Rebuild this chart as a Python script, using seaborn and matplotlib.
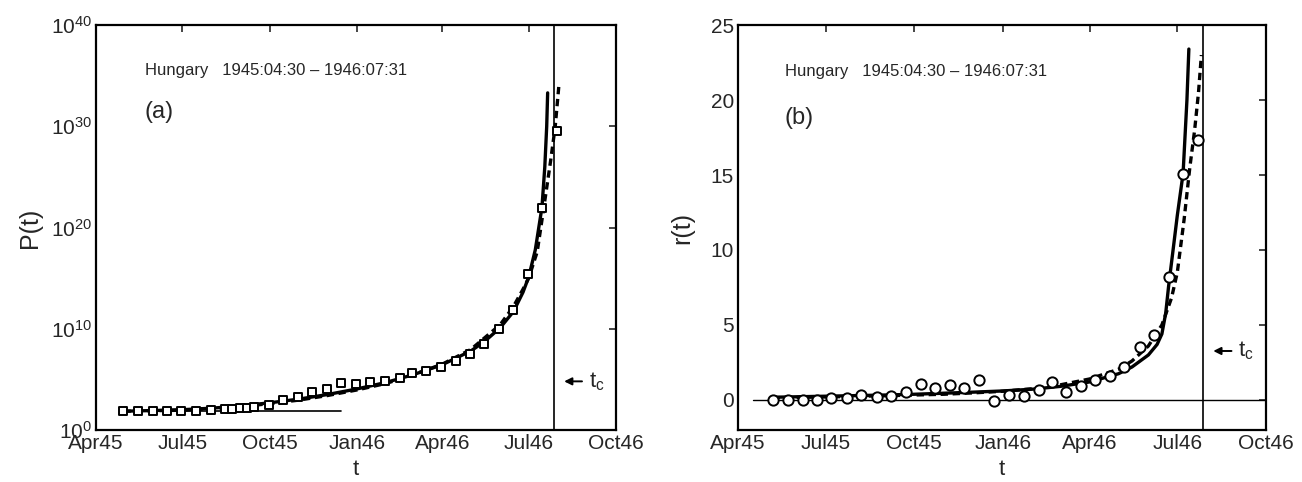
"""
hungary_hyperinflation.py
Price index P(t) and return r(t) for the Hungarian hyperinflation, with two fits.
"""

import matplotlib.dates as mdates
import matplotlib.pyplot as plt
import numpy as np
import pandas as pd
import seaborn as sns

# data
price_dates = [
    "1945-04-30", "1945-05-15", "1945-05-31", "1945-06-15", "1945-06-30",
    "1945-07-15", "1945-07-31", "1945-08-15", "1945-08-22", "1945-08-31",
    "1945-09-07", "1945-09-15", "1945-09-30", "1945-10-15", "1945-10-31",
    "1945-11-15", "1945-11-30", "1945-12-15", "1945-12-31", "1946-01-15",
    "1946-01-31", "1946-02-15", "1946-02-28", "1946-03-15", "1946-03-31",
    "1946-04-15", "1946-04-30", "1946-05-15", "1946-05-31", "1946-06-15",
    "1946-06-30", "1946-07-15", "1946-07-31",
]
log_price = [
    1.85, 1.85, 1.85, 1.85, 1.85, 1.89, 1.94, 2.07, 2.10, 2.15,
    2.20, 2.26, 2.48, 2.95, 3.30, 3.73, 4.06, 4.62, 4.58, 4.72,
    4.83, 5.12, 5.63, 5.86, 6.25, 6.81, 7.50, 8.45, 9.97, 11.85,
    15.41, 21.97, 29.50,
]

return_dates = [
    "1945-05-07", "1945-05-23", "1945-06-07", "1945-06-22", "1945-07-07",
    "1945-07-23", "1945-08-07", "1945-08-23", "1945-09-07", "1945-09-22",
    "1945-10-08", "1945-10-23", "1945-11-07", "1945-11-22", "1945-12-07",
    "1945-12-23", "1946-01-07", "1946-01-23", "1946-02-07", "1946-02-21",
    "1946-03-07", "1946-03-23", "1946-04-07", "1946-04-22", "1946-05-07",
    "1946-05-23", "1946-06-07", "1946-06-22", "1946-07-07", "1946-07-23",
]
returns = [
    0.0, 0.0, 0.0, 0.0, 0.1, 0.1, 0.3, 0.2, 0.25, 0.5,
    1.07, 0.8, 1.0, 0.77, 1.3, -0.1, 0.33, 0.24, 0.66, 1.18,
    0.53, 0.9, 1.3, 1.58, 2.19, 3.5, 4.33, 8.2, 15.1, 17.35,
]

# fit curves for P(t), sampled from the figure (log10 P)
fit_p_solid_dates = [
    "1945-04-30", "1945-06-01", "1945-07-01", "1945-08-01", "1945-09-01",
    "1945-10-01", "1945-11-01", "1945-12-01", "1946-01-01", "1946-02-01",
    "1946-03-01", "1946-04-01", "1946-05-01", "1946-05-15", "1946-06-01",
    "1946-06-15", "1946-06-25", "1946-07-01", "1946-07-08", "1946-07-15",
    "1946-07-18", "1946-07-20", "1946-07-21",
]
fit_p_solid = [
    1.85, 1.92, 2.00, 2.15, 2.38, 2.68, 3.05, 3.50, 4.05, 4.70,
    5.45, 6.45, 7.80, 8.70, 10.10, 11.70, 13.60, 15.10, 17.80, 22.00,
    26.00, 30.00, 33.30,
]
fit_p_dashed_dates = [
    "1945-04-30", "1945-07-01", "1945-09-01", "1945-10-01", "1945-11-01",
    "1945-12-01", "1946-01-01", "1946-02-01", "1946-03-01", "1946-04-01",
    "1946-05-01", "1946-06-01", "1946-06-15", "1946-06-25", "1946-07-01",
    "1946-07-10", "1946-07-17", "1946-07-24", "1946-07-29", "1946-08-02",
]
fit_p_dashed = [
    1.85, 1.95, 2.30, 2.60, 2.95, 3.40, 3.95, 4.60, 5.45, 6.50,
    7.95, 10.40, 12.20, 13.90, 15.00, 17.60, 22.00, 26.50, 30.00, 34.20,
]

# fit curves for r(t)
fit_r_solid_dates = [
    "1945-05-07", "1945-07-01", "1945-09-01", "1945-10-01", "1945-11-01",
    "1945-12-01", "1946-01-01", "1946-02-01", "1946-03-01", "1946-04-01",
    "1946-05-01", "1946-05-15", "1946-06-01", "1946-06-10", "1946-06-15",
    "1946-06-19", "1946-06-22", "1946-06-27", "1946-07-01", "1946-07-07",
    "1946-07-11", "1946-07-13",
]
fit_r_solid = [
    0.18, 0.25, 0.33, 0.38, 0.45, 0.52, 0.60, 0.72, 0.90, 1.20,
    1.75, 2.20, 3.00, 3.70, 4.40, 5.80, 7.60, 10.20, 12.30, 15.10,
    20.00, 23.40,
]
fit_r_dashed_dates = [
    "1945-05-07", "1945-07-01", "1945-09-01", "1945-10-01", "1945-11-01",
    "1945-12-01", "1946-01-01", "1946-02-01", "1946-03-01", "1946-04-01",
    "1946-05-01", "1946-05-15", "1946-06-01", "1946-06-15", "1946-06-25",
    "1946-07-01", "1946-07-08", "1946-07-14", "1946-07-19", "1946-07-23",
    "1946-07-26",
]
fit_r_dashed = [
    0.15, 0.20, 0.28, 0.33, 0.38, 0.47, 0.58, 0.75, 1.00, 1.40,
    2.05, 2.60, 3.60, 5.00, 6.80, 8.50, 12.00, 15.50, 18.00, 20.50,
    23.00,
]

critical_time = "1946-07-28"
p0_line_dates = ["1945-04-30", "1945-12-15"]
zero_line_dates = ["1945-04-17", "1946-10-01"]
x_ticks = ["1945-04-01", "1945-07-01", "1945-10-01", "1946-01-01",
           "1946-04-01", "1946-07-01", "1946-10-01"]
label_text = "Hungary   1945:04:30 \u2013 1946:07:31"


def frame(dates, values, log=False):
    vals = np.asarray(values, dtype=float)
    if log:
        vals = 10.0 ** vals
    return pd.DataFrame({"t": pd.to_datetime(dates), "y": vals})


def style_axis(ax):
    ax.tick_params(direction="in", top=True, right=True, length=5, width=1.2,
                   labelsize=15, pad=3)
    ax.tick_params(which="minor", left=False, right=False)
    for sp in ax.spines.values():
        sp.set_linewidth(1.6)
        sp.set_color("black")
    ticks = pd.to_datetime(x_ticks)
    ax.set_xticks(ticks)
    ax.xaxis.set_major_formatter(mdates.DateFormatter("%b%y"))
    ax.set_xlim(ticks[0], ticks[-1])
    ax.set_xlabel("t", fontsize=16, labelpad=4)


def main():
    sns.set_theme(style="white")
    plt.rcParams["font.family"] = ["Liberation Sans", "DejaVu Sans"]
    plt.rcParams["mathtext.fontset"] = "custom"
    plt.rcParams["mathtext.rm"] = "Liberation Sans"
    plt.rcParams["mathtext.it"] = "Liberation Sans:italic"

    fig = plt.figure(figsize=(13.02, 4.82), dpi=100)
    ax1 = fig.add_axes([0.0737, 0.108, 0.3994, 0.840])
    ax2 = fig.add_axes([0.5668, 0.108, 0.4055, 0.840])

    tc = pd.Timestamp(critical_time)
    line_kw = dict(x="t", y="y", color="black", sort=False, estimator=None,
                   legend=False)

    # panel (a): price index on log scale
    ax1.set_yscale("log")
    sns.lineplot(data=frame(fit_p_solid_dates, fit_p_solid, log=True), ax=ax1,
                 linewidth=2.4, **line_kw)
    sns.lineplot(data=frame(fit_p_dashed_dates, fit_p_dashed, log=True), ax=ax1,
                 linewidth=2.4, dashes=False, linestyle=(0, (2.2, 1.4)), **line_kw)
    sns.lineplot(data=frame(p0_line_dates, [log_price[0]] * 2, log=True), ax=ax1,
                 linewidth=1.2, **line_kw)
    sns.scatterplot(data=frame(price_dates, log_price, log=True), x="t", y="y",
                    ax=ax1, marker="s", s=34, facecolor="white",
                    edgecolor="black", linewidth=1.4, zorder=5, legend=False)
    ax1.axvline(tc, color="black", linewidth=1.2)
    ax1.set_ylim(1, 1e40)
    ax1.set_yticks([1e0, 1e10, 1e20, 1e30, 1e40])
    ax1.set_ylabel("P(t)", fontsize=18, labelpad=6)
    style_axis(ax1)
    ax1.text(0.094, 0.889, label_text, transform=ax1.transAxes, fontsize=12,
             va="center")
    ax1.text(0.094, 0.785, "(a)", transform=ax1.transAxes, fontsize=17,
             va="center")

    # panel (b): return
    sns.lineplot(data=frame(zero_line_dates, [0, 0]), ax=ax2, linewidth=1.0,
                 **line_kw)
    sns.lineplot(data=frame(fit_r_solid_dates, fit_r_solid), ax=ax2,
                 linewidth=2.4, **line_kw)
    sns.lineplot(data=frame(fit_r_dashed_dates, fit_r_dashed), ax=ax2,
                 linewidth=2.4, dashes=False, linestyle=(0, (2.2, 1.4)), **line_kw)
    sns.scatterplot(data=frame(return_dates, returns), x="t", y="y", ax=ax2,
                    marker="o", s=55, facecolor="white", edgecolor="black",
                    linewidth=1.4, zorder=5, legend=False)
    ax2.axvline(tc, color="black", linewidth=1.2)
    ax2.set_ylim(-2, 25)
    ax2.set_yticks([0, 5, 10, 15, 20, 25])
    ax2.set_ylabel("r(t)", fontsize=18, labelpad=12)
    style_axis(ax2)
    ax2.text(0.089, 0.885, label_text, transform=ax2.transAxes, fontsize=12,
             va="center")
    ax2.text(0.089, 0.77, "(b)", transform=ax2.transAxes, fontsize=17,
             va="center")

    # t_c markers
    for ax, ypos in [(ax1, 0.12), (ax2, 0.195)]:
        ax.annotate("", xy=(0.895, ypos), xytext=(0.94, ypos),
                    xycoords="axes fraction",
                    arrowprops=dict(arrowstyle="-|>", color="black", lw=1.4,
                                    mutation_scale=11))
        ax.text(0.948, ypos, r"t$_{\mathrm{c}}$", transform=ax.transAxes,
                fontsize=16, va="center")

    fig.savefig("out.png", dpi=100)


if __name__ == "__main__":
    main()
